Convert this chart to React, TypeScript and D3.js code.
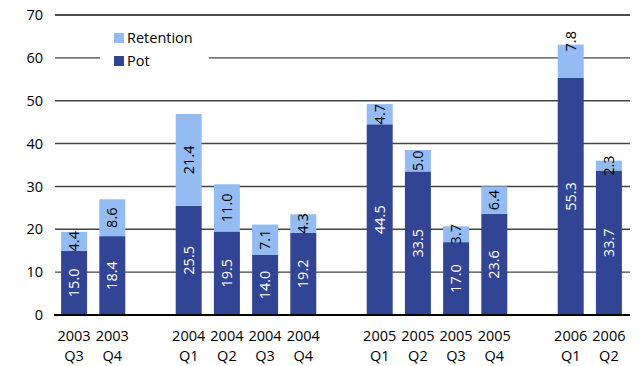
import React from "react";
import * as d3 from "d3";

// Quarterly figures (two stacked components)
const years = ["2003", "2003", "2004", "2004", "2004", "2004", "2005", "2005", "2005", "2005", "2006", "2006"];
const quarters = ["Q3", "Q4", "Q1", "Q2", "Q3", "Q4", "Q1", "Q2", "Q3", "Q4", "Q1", "Q2"];
const potValues = [15.0, 18.4, 25.5, 19.5, 14.0, 19.2, 44.5, 33.5, 17.0, 23.6, 55.3, 33.7];
const retentionValues = [4.4, 8.6, 21.4, 11.0, 7.1, 4.3, 4.7, 5.0, 3.7, 6.4, 7.8, 2.3];
// Slot index of each bar along the axis; empty slots separate the years
const slots = [0, 1, 3, 4, 5, 6, 8, 9, 10, 11, 13, 14];
const slotCount = 15;
const yTicks = [0, 10, 20, 30, 40, 50, 60, 70];

const W = 639;
const H = 366;
const POT = "#324494";
const RET = "#94bbf2";
const FONT = "'Open Sans', sans-serif";
const FS = 14.5;

export default function App() {
  const x = d3
    .scaleBand<number>()
    .domain(d3.range(slotCount))
    .range([55, 628])
    .paddingInner(0.32)
    .paddingOuter(0.16);
  const y = d3.scaleLinear().domain([0, 70]).range([315, 15]);
  const bw = x.bandwidth();

  const stack = d3
    .stack<number>()
    .keys(["pot", "ret"])
    .value((i, k) => (k === "pot" ? potValues[i] : retentionValues[i]));
  const series = stack(d3.range(potValues.length));

  // the 2006 Q1 retention label sits near the top of its segment
  const labelShift = (key: string, i: number) => (key === "ret" && i === 10 ? -20 : 0);

  return (
    <svg width={W} height={H} style={{ position: "absolute", left: 0, top: 0, background: "#fff" }} fontFamily={FONT}>
      {/* grid */}
      {yTicks.slice(1).map((t) => (
        <line key={t} x1={55} x2={630} y1={y(t)} y2={y(t)} stroke={t === 70 ? "#111" : "#444"} strokeWidth={1.4} />
      ))}
      {yTicks.map((t) => (
        <text key={"yl" + t} x={43} y={y(t)} dy="0.35em" textAnchor="end" fontSize={FS} fill="#000">
          {t}
        </text>
      ))}

      {/* legend */}
      <rect x={100} y={28} width={109} height={40} fill="#fff" />
      <rect x={114} y={33} width={10} height={10} fill={RET} />
      <text x={127} y={38} dy="0.35em" fontSize={FS} fill="#000">Retention</text>
      <rect x={114} y={56} width={10} height={10} fill={POT} />
      <text x={127} y={61} dy="0.35em" fontSize={FS} fill="#000">Pot</text>

      {/* bars */}
      {series.map((s) =>
        s.map((d, i) => (
          <rect
            key={s.key + i}
            x={x(slots[i])!}
            y={y(d[1])}
            width={bw}
            height={y(d[0]) - y(d[1])}
            fill={s.key === "pot" ? POT : RET}
          />
        ))
      )}

      {/* value labels */}
      {series.map((s) =>
        s.map((d, i) => {
          const cx = x(slots[i])! + bw / 2;
          const cy = (y(d[0]) + y(d[1])) / 2 + labelShift(s.key, i);
          const v = s.key === "pot" ? potValues[i] : retentionValues[i];
          return (
            <text
              key={"l" + s.key + i}
              transform={`translate(${cx},${cy}) rotate(-90)`}
              textAnchor="middle"
              dy="0.35em"
              fontSize={FS}
              fill={s.key === "pot" ? "#fff" : "#000"}
            >
              {v.toFixed(1)}
            </text>
          );
        })
      )}

      {/* axis */}
      <line x1={54} x2={630} y1={y(0)} y2={y(0)} stroke="#000" strokeWidth={2} />
      {years.map((yr, i) => (
        <text key={"c" + i} x={x(slots[i])! + bw / 2} textAnchor="middle" fontSize={FS} fill="#000">
          <tspan x={x(slots[i])! + bw / 2} y={341}>{yr}</tspan>
          <tspan x={x(slots[i])! + bw / 2} y={361}>{quarters[i]}</tspan>
        </text>
      ))}
    </svg>
  );
}
